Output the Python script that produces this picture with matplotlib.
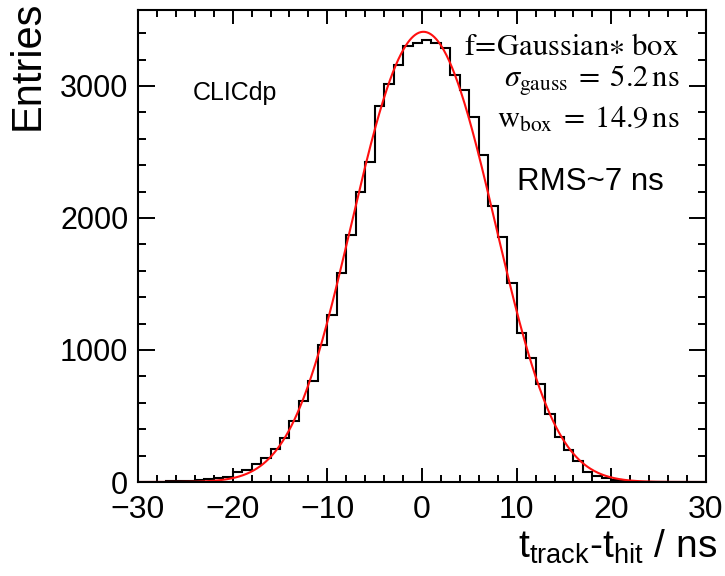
import math
import numpy as np
import matplotlib
matplotlib.use("Agg")
import matplotlib.pyplot as plt
from matplotlib.ticker import MultipleLocator

plt.rcParams["font.family"] = ["Liberation Sans", "DejaVu Sans"]
plt.rcParams["mathtext.fontset"] = "custom"
plt.rcParams["mathtext.rm"] = "Liberation Sans"
plt.rcParams["mathtext.it"] = "Liberation Sans:italic"

# Histogram of t_track - t_hit, 1 ns bins from -30 to 30 ns
bin_edges = np.arange(-30, 31, 1)
entries = [
    1, 2, 3, 4, 6, 9, 14, 19, 27, 36,            # -30 .. -21
    78, 92, 133, 180, 248, 331, 463, 615, 768, 1040,   # -20 .. -11
    1262, 1581, 1871, 2199, 2420, 2848, 3014, 3155, 3303, 3323,  # -10 .. -1
    3348, 3323, 3290, 3083, 2970, 2768, 2474, 2092, 1856, 1505,  # 0 .. 9
    1126, 937, 742, 514, 343, 242, 162, 78, 45, 28,  # 10 .. 19
    12, 6, 3, 2, 1, 0, 0, 0, 0, 0,               # 20 .. 29
]

# Fit: Gaussian convolved with a box
sigma_gauss = 5.2
w_box = 14.9
fit_mean = 0.15
fit_peak = 3410

x_ticks = [-30, -20, -10, 0, 10, 20, 30]
y_ticks = [0, 1000, 2000, 3000]


def gauss_box(x, mu, sigma, width, peak):
    erf = np.vectorize(math.erf)
    half = width / 2.0
    shape = lambda t: 0.5 * (erf((t - mu + half) / (sigma * np.sqrt(2)))
                             - erf((t - mu - half) / (sigma * np.sqrt(2))))
    return peak * shape(x) / shape(np.array([mu]))[0]


W, H = 725, 576
fig = plt.figure(figsize=(W / 100, H / 100), dpi=100)
ax = fig.add_axes([138 / W, 1 - 482 / H, (706 - 138) / W, (482 - 10) / H])

ax.stairs(entries, bin_edges, color="black", linewidth=1.5)
xf = np.linspace(-30, 30, 601)
ax.plot(xf, gauss_box(xf, fit_mean, sigma_gauss, w_box, fit_peak),
        color="#ff1010", linewidth=1.5)

ax.set_xlim(-30, 30)
ax.set_ylim(0, 3575)
ax.set_xticks(x_ticks)
ax.set_yticks(y_ticks)
ax.set_xticklabels(["\u2212" + str(-v) if v < 0 else str(v) for v in x_ticks])
ax.xaxis.set_minor_locator(MultipleLocator(2))
ax.yaxis.set_minor_locator(MultipleLocator(200))
ax.tick_params(axis="both", which="both", direction="in", top=True, right=True,
               width=1.4, labelsize=22, colors="black")
ax.tick_params(axis="x", which="major", length=10, pad=9, labelsize=23)
ax.tick_params(axis="x", which="minor", length=5)
ax.tick_params(axis="y", which="major", length=12, pad=7)
ax.tick_params(axis="y", which="minor", length=6)
for s in ax.spines.values():
    s.set_linewidth(1.5)

fig.text(28 / W, 1 - 1 / H, "Entries", rotation=90, ha="center", va="top",
         fontsize=30)
fig.text(717 / W, 1 - 558 / H, "t$_{\\rm track}$-t$_{\\rm hit}$ / ns",
         ha="right", va="baseline", fontsize=28)

fig.text(193 / W, 1 - 93 / H, "CLICdp", ha="left", va="center", fontsize=18)

fig.text(679 / W, 1 - 55 / H, r"$\mathrm{f\!=\!Gaussian}{\ast}\ \mathrm{box}$",
         ha="right", va="baseline", fontsize=22, math_fontfamily="stix")
fig.text(680 / W, 1 - 87 / H, r"$\sigma_{\mathrm{gauss}}\;=\;5.2\,\mathrm{ns}$",
         ha="right", va="baseline", fontsize=22, math_fontfamily="stix")
fig.text(680 / W, 1 - 128 / H, r"$\mathrm{w_{box}}\;=\;14.9\,\mathrm{ns}$",
         ha="right", va="baseline", fontsize=22, math_fontfamily="stix")

fig.text(517 / W, 1 - 190 / H, "RMS~7 ns", ha="left", va="baseline",
         fontsize=22.5)

fig.savefig("out.png", dpi=100, facecolor="white")
